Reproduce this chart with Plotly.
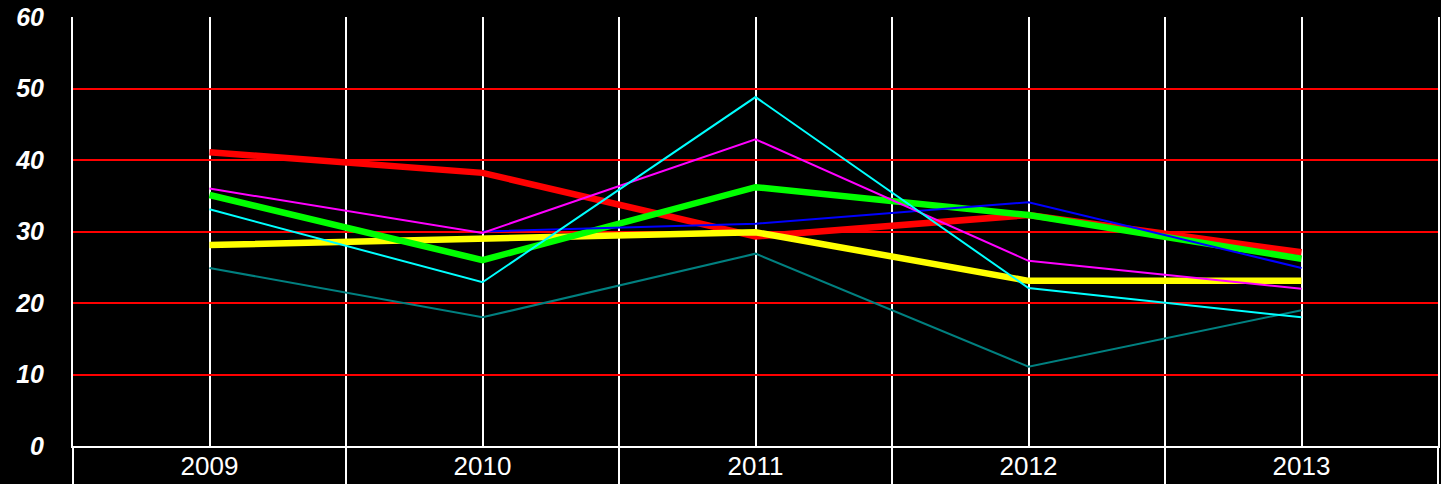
import plotly.graph_objects as go

years = ["2009", "2010", "2011", "2012", "2013"]
red_vals = [41.1, 38.2, 29.3, 32.3, 27.1]
yellow_vals = [28.1, 29.0, 29.9, 23.1, 23.1]
green_vals = [35.1, 26.0, 36.2, 32.3, 26.2]
teal_vals = [24.9, 18.0, 26.9, 11.1, 19.0]
blue_vals = [None, 30.0, 31.1, 34.1, 24.9]
magenta_vals = [36.0, 29.8, 42.9, 25.9, 22.0]
cyan_vals = [33.1, 22.9, 48.8, 22.1, 18.0]
y_ticks = [0, 10, 20, 30, 40, 50, 60]

series = [
    (red_vals, "#FF0000", 6.5),
    (yellow_vals, "#FFFF00", 6.5),
    (green_vals, "#00FF00", 6.5),
    (teal_vals, "#008080", 2),
    (blue_vals, "#0000FF", 2),
    (magenta_vals, "#FF00FF", 2),
    (cyan_vals, "#00FFFF", 2),
]

fig = go.Figure()
for vals, col, w in series:
    fig.add_trace(go.Scatter(
        x=list(range(len(years))), y=vals, mode="lines",
        line=dict(color=col, width=w), connectgaps=False,
        showlegend=False, hoverinfo="skip"))

fig.update_layout(
    width=1441, height=484,
    margin=dict(l=73, r=3, t=17, b=38),
    paper_bgcolor="black", plot_bgcolor="black",
    showlegend=False,
)
fig.update_xaxes(
    range=[-0.5, 4.5], automargin=False,
    tickmode="array", tickvals=list(range(len(years))), ticktext=years,
    ticks="", showgrid=True, gridcolor="white", gridwidth=2,
    showline=True, linecolor="white", linewidth=2,
    zeroline=False,
    tickfont=dict(family="Liberation Sans, Arial", size=26, color="white"),
    ticklabelstandoff=-4,
    minor=dict(tick0=-0.5, dtick=1, ticks="outside", ticklen=40,
               tickcolor="white", tickwidth=2, showgrid=True,
               gridcolor="white", gridwidth=2),
)
fig.update_yaxes(
    range=[0, 60], tickmode="array", tickvals=y_ticks, automargin=False,
    showgrid=True, gridcolor="#FF0000", gridwidth=2,
    zeroline=False, showline=True, linecolor="white", linewidth=2,
    mirror=True, ticks="",
    tickfont=dict(family="Liberation Sans, Arial", size=25, color="white",
                  weight="bold", style="italic"),
    ticklabelstandoff=22,
)
fig.write_html("out.html", config={"displayModeBar": False},
               post_script="document.body.style.margin='0px';document.body.style.overflow='hidden';")
